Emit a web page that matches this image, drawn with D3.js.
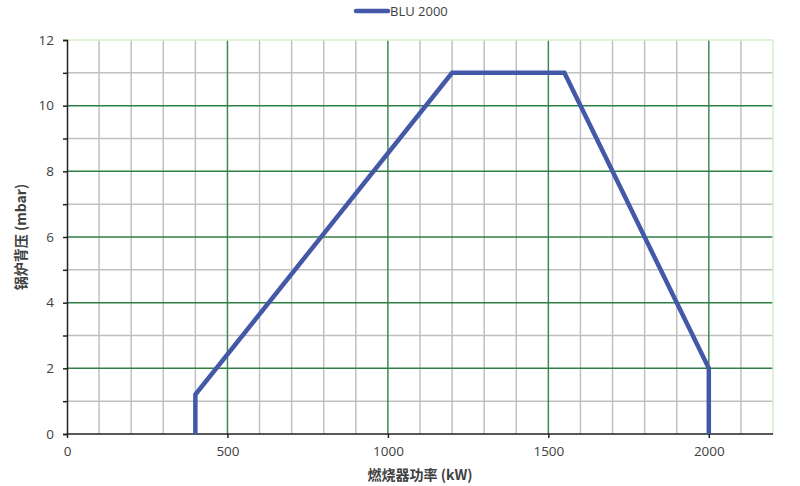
<!DOCTYPE html>
<html><head><meta charset="utf-8">
<script src="https://cdn.jsdelivr.net/npm/d3@7"></script>
<style>body{margin:0;background:#fff}svg{display:block}</style>
</head><body>
<svg id="c" width="800" height="486"></svg>
<script>
const seriesName = "BLU 2000";
const xVals = [400, 400, 1200, 1550, 2000, 2000];
const yVals = [0, 1.2, 11, 11, 2, 0];
const xTicks = [0, 500, 1000, 1500, 2000];
const yTicks = [0, 2, 4, 6, 8, 10, 12];
const xLabel = "燃烧器功率 (kW)";
const yLabel = "锅炉背压 (mbar)";

const svg = d3.select("#c");
const L = 67, R = 773, T = 40, B = 434;
const x = d3.scaleLinear().domain([0, 2200]).range([L, R]);
const y = d3.scaleLinear().domain([0, 12]).range([B, T]);
const font = "'Open Sans','Liberation Sans',sans-serif";

// minor grid
const g = svg.append("g");
g.selectAll(".vx").data(d3.range(100, 2201, 100).filter(v => v % 500 !== 0 && v !== 2200)).enter()
  .append("line").attr("x1", d => x(d)).attr("x2", d => x(d)).attr("y1", T).attr("y2", B)
  .attr("stroke", "#c0c0c0").attr("stroke-width", 1.5);
g.selectAll(".hy").data(d3.range(1, 12, 2)).enter()
  .append("line").attr("x1", L).attr("x2", R).attr("y1", d => y(d)).attr("y2", d => y(d))
  .attr("stroke", "#c0c0c0").attr("stroke-width", 1.5);
// major grid
g.selectAll(".vX").data(xTicks.filter(v => v > 0)).enter()
  .append("line").attr("x1", d => x(d)).attr("x2", d => x(d)).attr("y1", T).attr("y2", B)
  .attr("stroke", "#3a8a55").attr("stroke-width", 1.5);
g.selectAll(".hY").data(yTicks.filter(v => v > 0 && v < 12)).enter()
  .append("line").attr("x1", L).attr("x2", R).attr("y1", d => y(d)).attr("y2", d => y(d))
  .attr("stroke", "#2f7f45").attr("stroke-width", 1.5);
// top & right border light green
svg.append("line").attr("x1", L).attr("x2", R).attr("y1", T).attr("y2", T).attr("stroke", "#d4ecc8").attr("stroke-width", 1.5);
svg.append("line").attr("x1", R).attr("x2", R).attr("y1", T).attr("y2", B).attr("stroke", "#d4ecc8").attr("stroke-width", 1.5);

// axes
const yAxis = svg.append("g").attr("transform", `translate(${L},0)`)
  .call(d3.axisLeft(y).tickValues(d3.range(0, 13, 1)).tickSize(4).tickFormat(d => yTicks.includes(d) ? d : ""));
yAxis.select(".domain").attr("stroke", "#222").attr("stroke-width", 1.5);
yAxis.selectAll(".tick line").attr("stroke", "#222").attr("stroke-width", 1.5);
yAxis.selectAll("text").attr("font-family", font).attr("font-size", 13.5).attr("fill", "#404040").attr("dx", -6);

const xAxis = svg.append("g").attr("transform", `translate(0,${B})`)
  .call(d3.axisBottom(x).tickValues(xTicks).tickSize(4).tickSizeOuter(0).tickFormat(d3.format("d")));
xAxis.select(".domain").attr("stroke", "#222").attr("stroke-width", 1.5).attr("d", `M${L},0H${R}`);
xAxis.selectAll(".tick line").attr("stroke", "#222").attr("stroke-width", 1.5);
xAxis.selectAll("text").attr("font-family", font).attr("font-size", 13.5).attr("fill", "#404040").attr("dy", "1.1em");

// series
const pts = xVals.map((v, i) => [v, yVals[i]]);
svg.append("path").datum(pts)
  .attr("d", d3.line().x(d => x(d[0])).y(d => y(d[1])))
  .attr("fill", "none").attr("stroke", "#4458a8").attr("stroke-width", 4.5).attr("stroke-linejoin", "miter");

// legend
svg.append("line").attr("x1", 356).attr("x2", 388).attr("y1", 11).attr("y2", 11)
  .attr("stroke", "#4458a8").attr("stroke-width", 4.5).attr("stroke-linecap", "round");
svg.append("text").attr("x", 390).attr("y", 16).text(seriesName)
  .attr("font-family", font).attr("font-size", 13).attr("fill", "#404040");

// axis titles
svg.append("text").attr("x", 420).attr("y", 480).attr("text-anchor", "middle").text(xLabel)
  .attr("font-family", "'Noto Sans CJK SC',sans-serif").attr("font-weight", "bold").attr("font-size", 14).attr("fill", "#404040");
svg.append("text").attr("transform", `translate(26,${(T + B) / 2}) rotate(-90)`).attr("text-anchor", "middle").text(yLabel)
  .attr("font-family", "'Noto Sans CJK SC',sans-serif").attr("font-weight", "bold").attr("font-size", 14).attr("fill", "#404040");
</script>
</body></html>
